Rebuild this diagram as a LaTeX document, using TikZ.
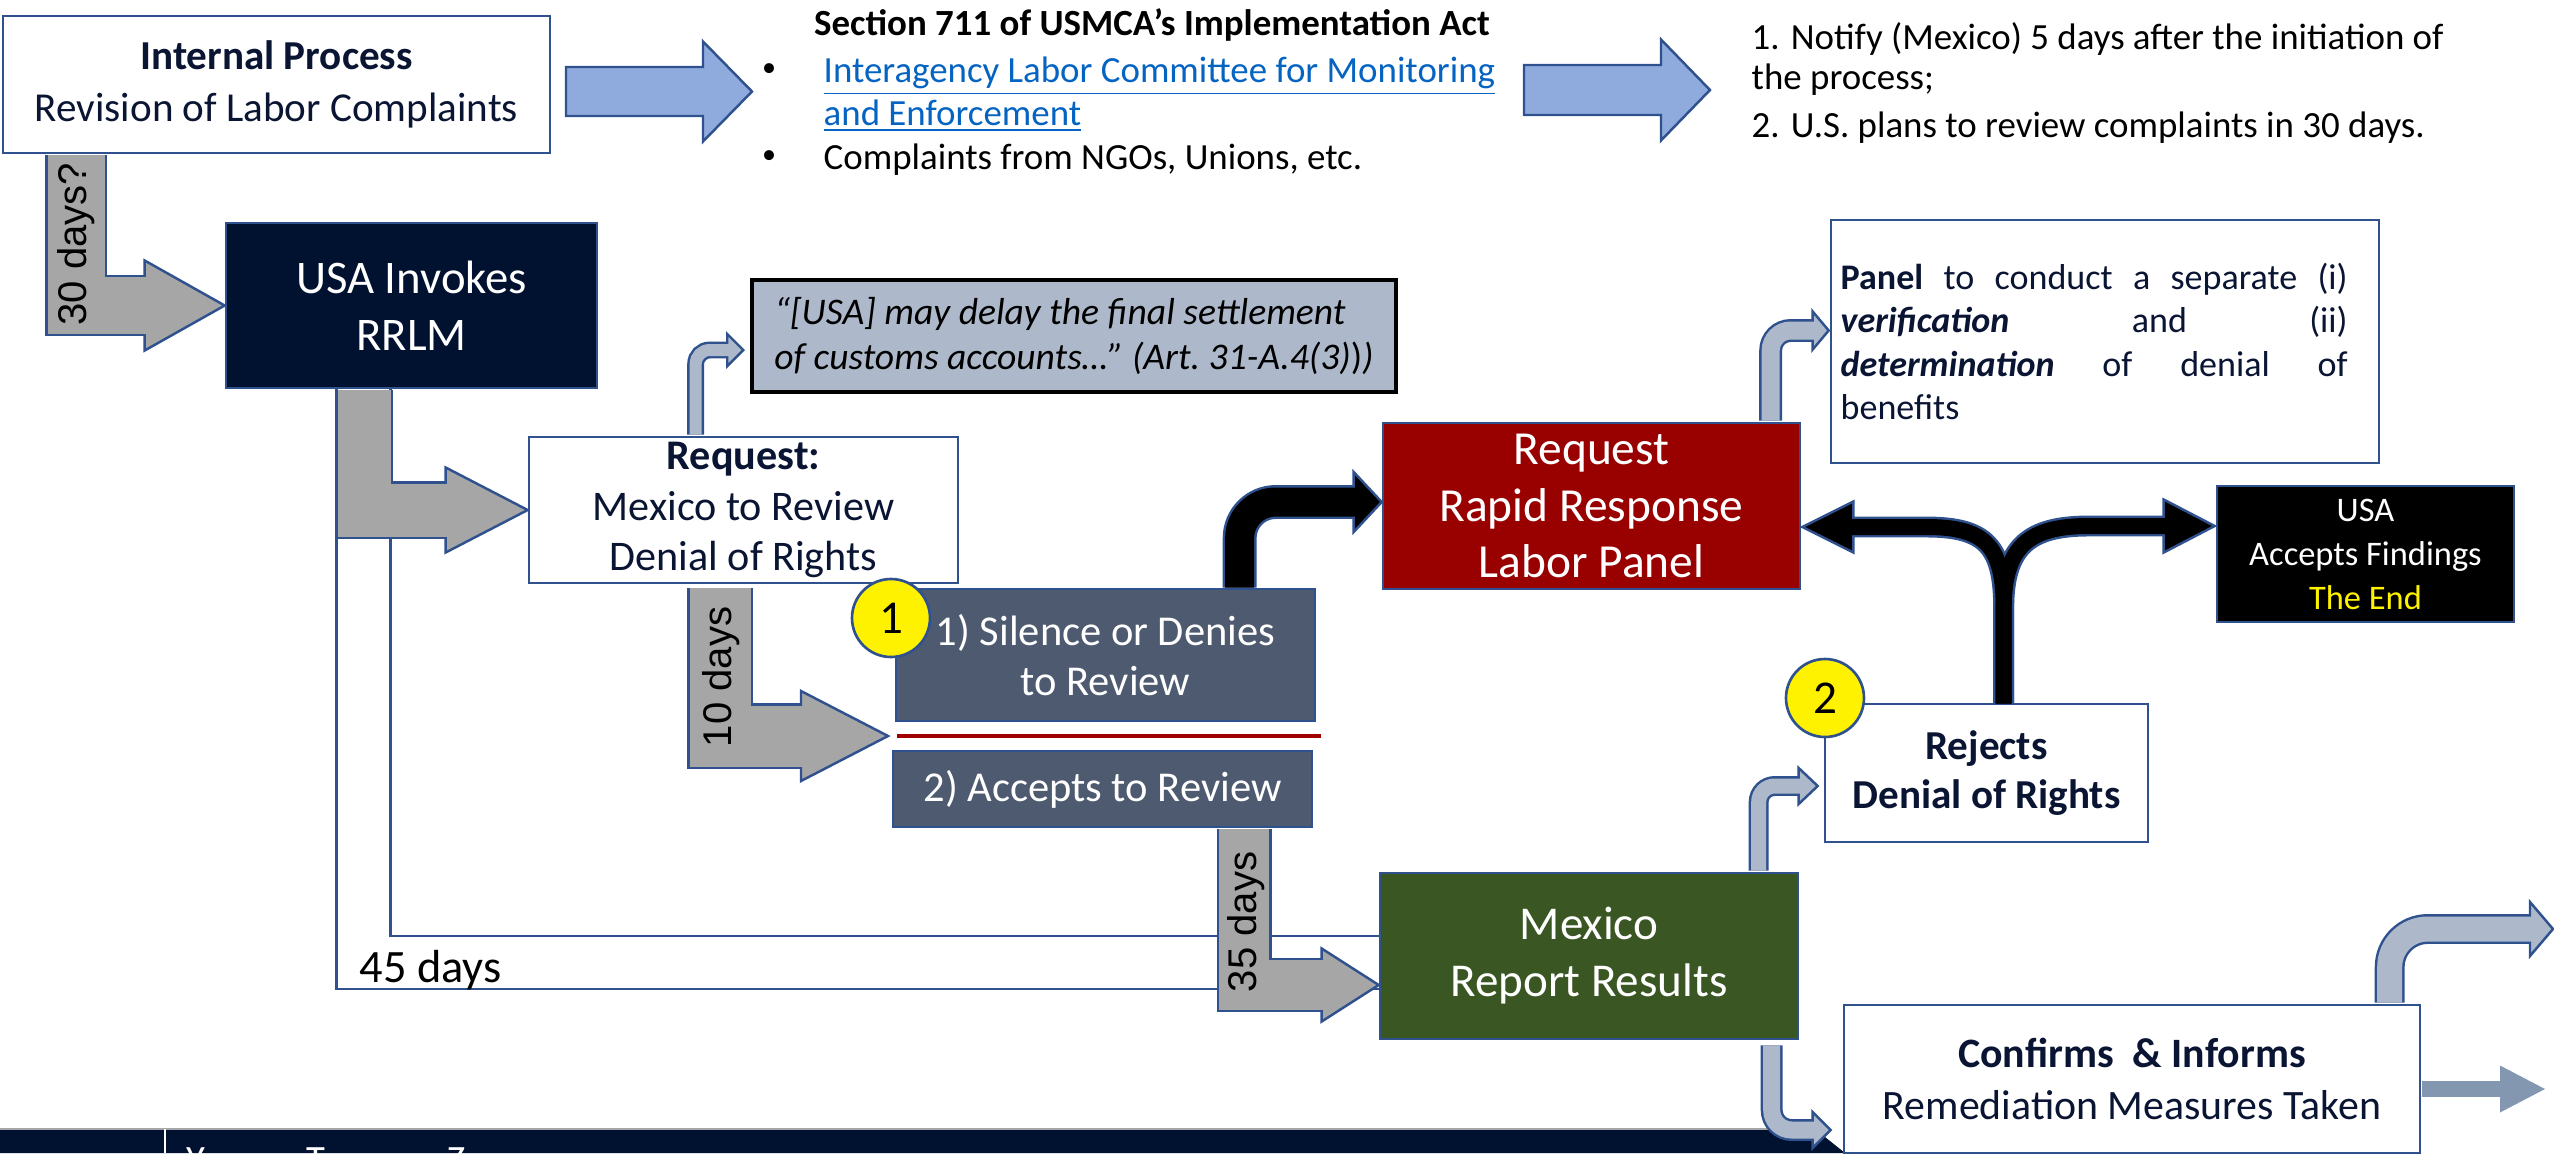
\documentclass[tikz,border=0pt]{standalone}
\usepackage{fontspec}
\setmainfont{Carlito}
\newfontfamily\arialfont{Liberation Sans}
\usetikzlibrary{calc}

\definecolor{edgeblue}{HTML}{2F528F}
\definecolor{navytxt}{HTML}{0A1433}
\definecolor{navyfill}{HTML}{011130}
\definecolor{slatefill}{HTML}{4E5A70}
\definecolor{redfill}{HTML}{990000}
\definecolor{greenfill}{HTML}{3A5623}
\definecolor{quotefill}{HTML}{ADB9CA}
\definecolor{grayarrow}{HTML}{A6A6A6}
\definecolor{bluearrow}{HTML}{8FAADC}
\definecolor{lightarrow}{HTML}{ADB9CA}
\definecolor{steelarrow}{HTML}{8497B0}
\definecolor{linkblue}{HTML}{0563C1}
\definecolor{sepred}{HTML}{A00000}

% head of a block arrow: fill, tip, length, half width
\newcommand{\headto}[4]{\filldraw[fill=#1, draw=edgeblue, line width=0.7pt] #2 -- ++({-(#3)},{#4}) -- ++(0,{-2*(#4)}) -- cycle;}
% bent block arrow: fill, shaft width, corners, shaft path, tip, head length, head half width
\newcommand{\fatarrow}[7]{%
  \draw[edgeblue, line width={(#2)*0.1mm+1.4pt}, #3] #4;
  \headto{#1}{#5}{#6}{#7}
  \draw[#1, line width={(#2)*0.1mm}, #3] #4;}
% straight block arrow: fill, tail, tip, shaft half width, head length, head half width
\newcommand{\straightarrow}[6]{\filldraw[fill=#1, draw=edgeblue, line width=0.7pt] ($#2+(0,-#4)$) -- ($#3+(-#5,-#4)$) -- ($#3+(-#5,-#6)$) -- #3 -- ($#3+(-#5,#6)$) -- ($#3+(-#5,#4)$) -- ($#2+(0,#4)$) -- cycle;}

\begin{document}
\begin{tikzpicture}[x=0.1mm, y=-0.1mm,
  box/.style={draw=edgeblue, line width=0.75pt, fill=white, align=center, inner sep=0pt, text=navytxt},
  darkbox/.style={box, text=white},
  numdot/.style={circle, draw=edgeblue, line width=0.75pt, fill=yellow, minimum size=7.8mm, inner sep=0pt, font=\fontsize{13.4}{16}\selectfont},
  daylabel/.style={rotate=90, inner sep=0pt, font=\arialfont\fontsize{11.4}{13}\selectfont},
  plain/.style={inner sep=0pt, font=\fontsize{10.5}{12.4}\selectfont}]
\useasboundingbox (0,0) rectangle (2554,1153);

% footer bar
\fill[navyfill] (0,1129) -- (1815,1129) -- (1845,1153) -- (0,1153) -- cycle;
\draw[gray!70, line width=0.5pt] (0,1129) -- (1815,1129);
\draw[white, line width=0.8pt] (165,1129) -- (165,1153);
\begin{scope}
\clip (0,1129) rectangle (1800,1153);
\node[white, anchor=north, inner sep=0pt, font=\fontsize{11}{13}\selectfont] (ft1) at (196,1147) {Y};
\node[white, anchor=north, inner sep=0pt, font=\fontsize{11}{13}\selectfont] (ft2) at (316,1147) {T};
\node[white, anchor=north, inner sep=0pt, font=\fontsize{11}{13}\selectfont] (ft3) at (457,1147) {Z};
\end{scope}

% boxes
\node[box, minimum width=54.7mm, minimum height=13.7mm, font=\fontsize{11.7}{14.8}\selectfont] (intp) at (276.5,84.5) {\textbf{Internal Process}\\Revision of Labor Complaints};
\node[darkbox, fill=navyfill, minimum width=37.1mm, minimum height=16.5mm, font=\fontsize{13.3}{16.2}\selectfont] (usa) at (411.5,305.5) {USA Invokes\\RRLM};
\node[box, minimum width=42.9mm, minimum height=14.6mm, font=\fontsize{12}{14.4}\selectfont] (req) at (743.5,510) {\textbf{Request:}\\Mexico to Review\\Denial of Rights};
\node[box, draw=black, line width=1pt, fill=quotefill, text=black, align=left, minimum width=64.4mm, minimum height=11.2mm, font=\fontsize{10.7}{12.8}\selectfont\itshape] (quote) at (1074,336) {“[USA] may delay the final settlement\\of customs accounts…” (Art.\ 31-A.4(3){\upshape)})};
\node[darkbox, fill=slatefill, minimum width=41.9mm, minimum height=13.2mm, font=\fontsize{12.1}{14.2}\selectfont] (silence) at (1105.5,655) {1) Silence or Denies\\to Review};
\node[darkbox, fill=slatefill, minimum width=41.9mm, minimum height=7.6mm, font=\fontsize{12.1}{14.2}\selectfont] (accepts) at (1102.5,789) {2) Accepts to Review};
\node[darkbox, fill=redfill, minimum width=41.7mm, minimum height=16.6mm, font=\fontsize{13.5}{16.1}\selectfont] (rrlp) at (1591.5,506) {Request\\Rapid Response\\Labor Panel};
\node[box, align=left, minimum width=54.8mm, minimum height=24.3mm, font=\fontsize{10.25}{12.4}\selectfont] (panel) at (2105,341.5) {\makebox[50.7mm][s]{\textbf{Panel} to conduct a separate (i)}\\\makebox[50.7mm][s]{\textbf{\itshape verification} and (ii)}\\\makebox[50.7mm][s]{\textbf{\itshape determination} of denial of}\\benefits\hspace*{41mm}};
\node[darkbox, fill=black, minimum width=29.7mm, minimum height=13.6mm, font=\fontsize{9.8}{12.5}\selectfont] (usaend) at (2365.5,554) {USA\\Accepts Findings\\\textcolor{yellow}{The End}};
\node[box, minimum width=32.3mm, minimum height=13.8mm, font=\fontsize{11.7}{14.2}\selectfont\bfseries] (rejects) at (1986.5,773) {Rejects\\Denial of Rights};
\node[darkbox, fill=greenfill, minimum width=41.8mm, minimum height=16.6mm, font=\fontsize{13.4}{16.2}\selectfont] (mexico) at (1589,956) {Mexico\\Report Results};
\node[box, minimum width=57.6mm, minimum height=14.8mm, font=\fontsize{11.9}{14.8}\selectfont] (confirms) at (2132,1079) {\textbf{Confirms\ \ \& Informs}\\Remediation Measures Taken};

% texts at the top
\node[plain, anchor=base, font=\fontsize{10.5}{12.4}\selectfont\bfseries] (sect) at (1152,35) {Section 711 of USMCA’s Implementation Act};
\node[plain, font=\fontsize{8}{10}\selectfont] (dot1) at (769,70) {\textbullet};
\node[plain, font=\fontsize{8}{10}\selectfont] (dot2) at (769,157) {\textbullet};
\node[plain, anchor=base west, text=linkblue] (link1) at (823,82) {\underline{Interagency Labor Committee for Monitoring}};
\node[plain, anchor=base west, text=linkblue] (link2) at (823,125) {\underline{and Enforcement}};
\node[plain, anchor=base west] (cmpl) at (823,169) {Complaints from NGOs, Unions, etc.};
\node[plain, anchor=base west] (note1) at (1751,49) {1. Notify (Mexico) 5 days after the initiation of};
\node[plain, anchor=base west] (note2) at (1751,89) {the process;};
\node[plain, anchor=base west] (note3) at (1751,137) {2. U.S. plans to review complaints in 30 days.};

\coordinate (b1tail) at (566,91.5);
\coordinate (b1tip) at (752,91.5);
\coordinate (b2tail) at (1524,90);
\coordinate (b2tip) at (1710,90);
\straightarrow{bluearrow}{(b1tail)}{(b1tip)}{24.5}{49}{50}
\straightarrow{bluearrow}{(b2tail)}{(b2tip)}{25}{49}{50.5}

% 45 days lines
\draw[edgeblue, line width=0.7pt] ($(usa.south west)+(112,0)$) |- ($(mexico.west)+(0,33)$);
\draw[edgeblue, line width=0.7pt] ($(usa.south west)+(166,0)$) |- ($(mexico.west)+(0,-20)$);
\node[inner sep=0pt, anchor=base west, font=\fontsize{13.2}{15}\selectfont] (d45) at (359,982) {45 days};

% grey arrows
\coordinate (sep1) at (897,736);
\coordinate (sep2) at (1321,736);
\draw[sepred, line width=1pt] (sep1) -- (sep2);
\fatarrow{grayarrow}{57}{sharp corners}{($(intp.south west)+(74.5,1)$) |- ($(usa.west)+(-77,0)$)}{(usa.west)}{80}{45}
\fatarrow{grayarrow}{53}{sharp corners}{($(usa.south west)+(139.5,1)$) |- ($(req.west)+(-79,0)$)}{(req.west)}{82}{42.5}
\fatarrow{grayarrow}{61}{sharp corners}{($(req.south west)+(192.5,4)$) |- ($(sep1)+(-93,0)$)}{($(sep1)+(-9,0)$)}{87}{45}
\fatarrow{grayarrow}{50}{sharp corners}{($(accepts.south west)+(352.5,1)$) |- ($(mexico.west)+(-54,29)$)}{($(mexico.west)+(0,29)$)}{57}{36.5}
\node[daylabel] (lab30) at (76,244) {30 days?};
\node[daylabel] (lab10) at (721,677) {10 days};
\node[daylabel] (lab35) at (1246,922) {35 days};

% black arrows
\fatarrow{black}{29}{rounded corners=3.6mm}{($(silence.north west)+(345,0)$) |- ($(rrlp.west)+(-25,-4)$)}{($(rrlp.west)+(0,-4)$)}{28}{30}
\coordinate (forkbase) at ($(rejects.north west)+(180,1)$);
\coordinate (forkmid) at ($(forkbase)+(0,-95)$);
\draw[edgeblue, line width={16*0.1mm+1.4pt}] (forkbase) -- (forkmid) .. controls +(0,-62) and +(60,0) .. ($(rrlp.east)+(125,21)$) -- ($(rrlp.east)+(48,21)$);
\draw[edgeblue, line width={16*0.1mm+1.4pt}] (forkbase) -- (forkmid) .. controls +(0,-62) and +(-60,0) .. ($(usaend.west)+(-127,-28)$) -- ($(usaend.west)+(-48,-28)$);
\headto{black}{($(rrlp.east)+(1,21)$)}{-51}{25.5}
\headto{black}{($(usaend.west)+(-1,-28)$)}{51}{26.5}
\draw[black, line width=1.6mm] (forkbase) -- (forkmid) .. controls +(0,-62) and +(60,0) .. ($(rrlp.east)+(125,21)$) -- ($(rrlp.east)+(48,21)$);
\draw[black, line width=1.6mm] (forkbase) -- (forkmid) .. controls +(0,-62) and +(-60,0) .. ($(usaend.west)+(-127,-28)$) -- ($(usaend.west)+(-48,-28)$);

% light arrows
\coordinate (out1) at (2553,929);
\coordinate (out2) at (2545,1089);
\fatarrow{lightarrow}{12}{rounded corners=1.4mm}{($(req.north west)+(168,-1)$) |- ($(quote.west)+(-20,14)$)}{($(quote.west)+(-7,14)$)}{16}{16}
\fatarrow{lightarrow}{18}{rounded corners=2mm}{($(rrlp.north west)+(389,-1)$) |- ($(panel.west)+(-13,-11)$)}{($(panel.west)+(-1,-11)$)}{16}{19}
\fatarrow{lightarrow}{15}{rounded corners=1.6mm}{($(mexico.north west)+(380,-1)$) |- ($(rejects.west)+(-22,13)$)}{($(rejects.west)+(-6,13)$)}{19}{18}
\fatarrow{lightarrow}{17}{rounded corners=2mm}{($(mexico.south west)+(393,5)$) |- ($(confirms.west)+(-27,51)$)}{($(confirms.west)+(-12,51)$)}{18}{18}
\fatarrow{lightarrow}{25}{rounded corners=3.8mm}{($(confirms.north west)+(547,-1)$) |- ($(out1)+(-20,0)$)}{(out1)}{23}{27}
\draw[steelarrow, line width=1.6mm] ($(confirms.east)+(1,10)$) -- ($(out2)+(-42,0)$);
\fill[steelarrow] (out2) -- ++(-45,23.5) -- ++(0,-47) -- cycle;

% numbers
\node[numdot] (n1) at (891,618) {1};
\node[numdot] (n2) at (1825,698) {2};
\end{tikzpicture}
\end{document}
